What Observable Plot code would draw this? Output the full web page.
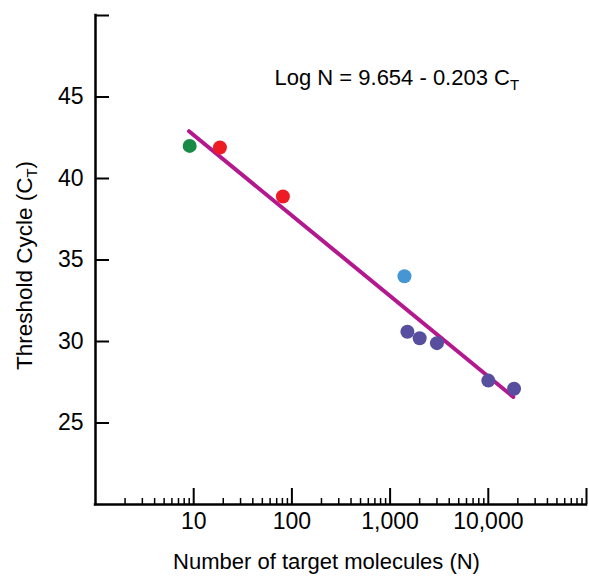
<!DOCTYPE html>
<html><head><meta charset="utf-8">
<script src="https://cdn.jsdelivr.net/npm/d3@7"></script>
<script src="https://cdn.jsdelivr.net/npm/@observablehq/plot@0.6"></script>
<style>body{margin:0;background:#fff} #chart svg{display:block}</style>
</head><body><div id="chart"></div>
<script>
// Data
const moleculeN   = [9.1, 18.5, 81, 1400, 1500, 2000, 3000, 10000, 18300];
const thresholdCT = [42.0, 41.9, 38.9, 34.0, 30.6, 30.2, 29.9, 27.6, 27.1];
const pointGroup  = ["g1", "g2", "g2", "g3", "g4", "g4", "g4", "g4", "g4"];
const groupNames  = ["g1", "g2", "g3", "g4"];
const groupColors = ["#178a46", "#ed1c24", "#4596d2", "#574ea0"];
const fitN  = [8.96, 17960];
const fitCT = [42.9, 26.6];
const xMajorTicks = [10, 100, 1000, 10000, 100000];
const xTickLabels = ["10", "100", "1,000", "10,000", ""];
const yTicks      = [25, 30, 35, 40, 45, 50];
const yTickLabels = ["25", "30", "35", "40", "45", ""];
const equationText = "Log N = 9.654 - 0.203 C";
const xTitle = "Number of target molecules (N)";
const yTitle = "Threshold Cycle (C";

const W = 589, H = 583, mL = 95, mR = 3, mT = 15, mB = 79;
const innerW = W - mL - mR, innerH = H - mT - mB;
const points = moleculeN.map((n, i) => ({n, ct: thresholdCT[i], g: pointGroup[i]}));
const fit = fitN.map((n, i) => ({n, ct: fitCT[i]}));
const minorTicks = [];
for (const d of [1, 10, 100, 1000, 10000]) for (let k = 2; k <= 9; k++) minorTicks.push(d * k);

const font = "'Liberation Sans', Arial, sans-serif";
const chart = Plot.plot({
  width: W, height: H,
  marginLeft: mL, marginRight: mR, marginTop: mT, marginBottom: mB,
  style: {fontFamily: font, background: "white", color: "black"},
  x: {type: "log", domain: [1, 100000], axis: null},
  y: {domain: [20, 50], axis: null},
  color: {type: "ordinal", domain: groupNames, range: groupColors},
  marks: [
    Plot.tickX(minorTicks, {x: d => d, stroke: "black", strokeWidth: 1.5, insetTop: innerH - 6}),
    Plot.tickX(xMajorTicks, {x: d => d, stroke: "black", strokeWidth: 2, insetTop: innerH - 16}),
    Plot.tickY(yTicks, {y: d => d, stroke: "black", strokeWidth: 2, insetRight: innerW - 14}),
    Plot.ruleX([1], {stroke: "black", strokeWidth: 2.5, strokeLinecap: "square"}),
    Plot.ruleY([20], {stroke: "black", strokeWidth: 2.5, strokeLinecap: "square"}),
    Plot.text(xTickLabels, {x: (d, i) => xMajorTicks[i], text: d => d, frameAnchor: "bottom", textAnchor: "middle", dy: 24.5, fontSize: 23, fill: "black"}),
    Plot.text(yTickLabels, {y: (d, i) => yTicks[i], text: d => d, frameAnchor: "left", textAnchor: "end", dx: -12, fontSize: 23, fill: "black"}),
    Plot.line(fit, {x: "n", y: "ct", stroke: "#b3188e", strokeWidth: 4}),
    Plot.dot(points, {x: "n", y: "ct", fill: "g", r: 7}),
    Plot.text([equationText], {text: d => d, frameAnchor: "top-left", textAnchor: "start", dx: 179, dy: 54, fontSize: 22, fill: "black"}),
    Plot.text([xTitle], {text: d => d, frameAnchor: "bottom", textAnchor: "middle", dx: -14.5, dy: 64, fontSize: 22, fill: "black"}),
    Plot.text([yTitle], {text: d => d, frameAnchor: "left", textAnchor: "middle", rotate: -90, dx: -71, dy: 5.5, fontSize: 22.5, fill: "black"})
  ]
});

// subscripts
d3.select(chart).selectAll("text").each(function () {
  const t = this.textContent;
  if (t === equationText) {
    d3.select(this).append("tspan").attr("dy", 5).attr("font-size", 15).text("T");
  } else if (t === yTitle) {
    d3.select(this).append("tspan").attr("dy", 5).attr("font-size", 15).text("T");
    d3.select(this).append("tspan").attr("dy", -5).text(")");
  }
});
document.getElementById("chart").appendChild(chart);
</script>
</body></html>
